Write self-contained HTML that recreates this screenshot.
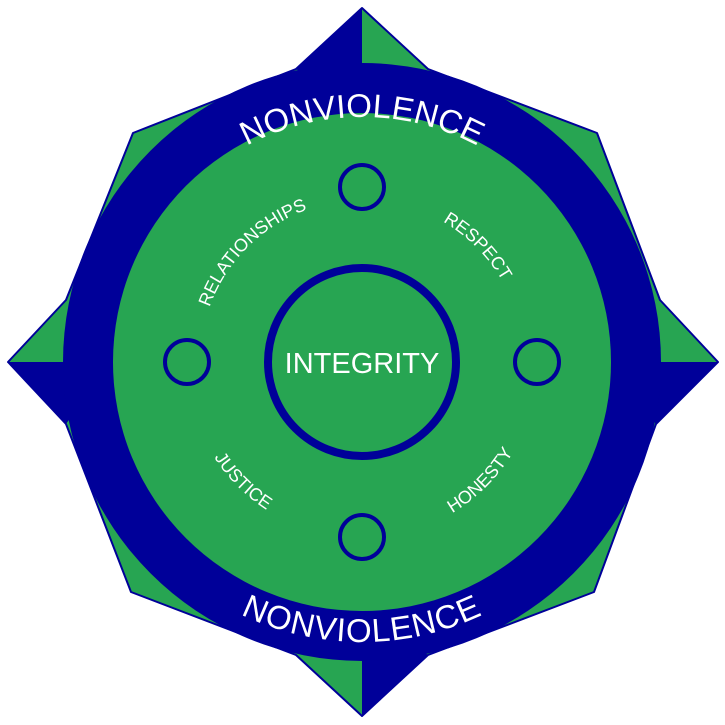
<!DOCTYPE html>
<html><head><meta charset="utf-8"><style>
html,body{margin:0;padding:0;background:#fff;}
svg{display:block;}
text{font-family:"Liberation Sans",sans-serif;fill:#fff;}
</style></head><body>
<svg width="725" height="725" viewBox="0 0 725 725" xmlns="http://www.w3.org/2000/svg">
<defs>
<path id="nt" d="M117,362 A245,245 0 0 1 607,362"/>
<path id="nb" d="M82,362 A280,280 0 0 0 642,362"/>
<path id="it" d="M200,362 A162,162 0 0 1 524,362"/>
<path id="ib" d="M186,362 A176,176 0 0 0 538,362"/>
</defs>
<polygon points="362,8 428,69 597,133 660,300 718,362 656,424 594,592 428,655 362,716 296,655 131,592 66,424 8,362 66,300 133,133 296,69" fill="#27a552" stroke="#000099" stroke-width="2" stroke-linejoin="round"/>
<polygon points="362,8 296,69 362,110" fill="#000099"/>
<polygon points="718,362 656,424 610,362" fill="#000099"/>
<polygon points="362,716 428,655 362,610" fill="#000099"/>
<polygon points="8,362 66,424 110,362" fill="#000099"/>
<circle cx="362" cy="362" r="299" fill="#000099"/>
<circle cx="362" cy="362" r="249" fill="#27a552"/>
<circle cx="362" cy="362" r="94" fill="none" stroke="#000099" stroke-width="8"/>
<circle cx="362" cy="187" r="22" fill="none" stroke="#000099" stroke-width="4"/>
<circle cx="187" cy="362" r="22" fill="none" stroke="#000099" stroke-width="4"/>
<circle cx="537" cy="362" r="22" fill="none" stroke="#000099" stroke-width="4"/>
<circle cx="362" cy="537" r="22" fill="none" stroke="#000099" stroke-width="4"/>
<text x="362" y="373" font-size="29" text-anchor="middle">INTEGRITY</text>
<text font-size="33"><textPath href="#nt" startOffset="50%" text-anchor="middle">NONVIOLENCE</textPath></text>
<text font-size="33" letter-spacing="1"><textPath href="#nb" startOffset="50%" text-anchor="middle">NONVIOLENCE</textPath></text>
<text font-size="18"><textPath href="#it" startOffset="25%" text-anchor="middle">RELATIONSHIPS</textPath></text>
<text font-size="18"><textPath href="#it" startOffset="75%" text-anchor="middle">RESPECT</textPath></text>
<text font-size="18"><textPath href="#ib" startOffset="25%" text-anchor="middle">JUSTICE</textPath></text>
<text font-size="18"><textPath href="#ib" startOffset="75%" text-anchor="middle">HONESTY</textPath></text>
</svg>
</body></html>
